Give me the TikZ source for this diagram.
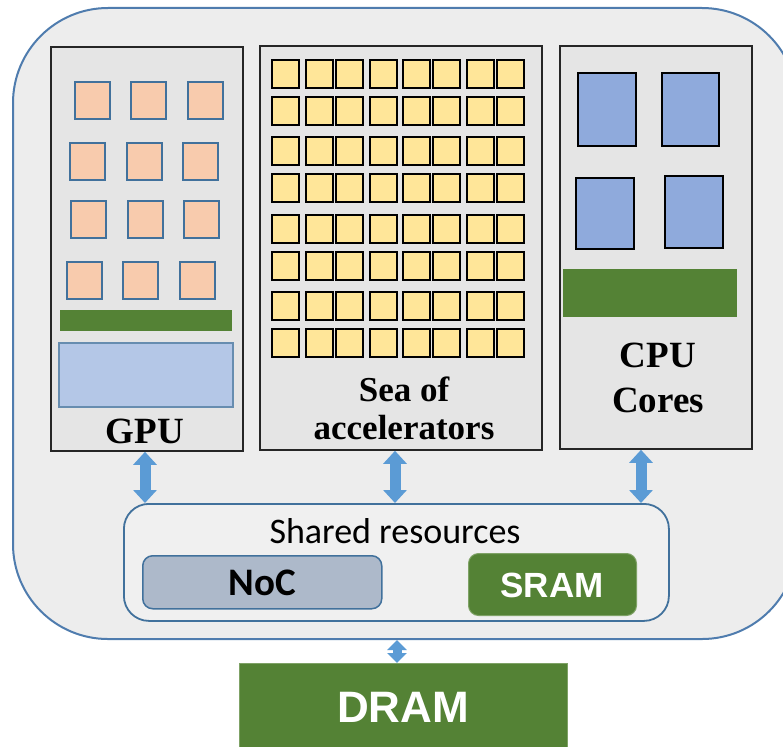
\documentclass[tikz,border=0pt]{standalone}
\usepackage{fontspec}
\setmainfont{Liberation Serif}
\newfontfamily\calib{Carlito}
\newfontfamily\arialf{Liberation Sans}
\usetikzlibrary{arrows.meta}

\definecolor{panel}{HTML}{EDEDED}
\definecolor{boxgray}{HTML}{E5E5E5}
\definecolor{frameblue}{HTML}{4F7CAE}
\definecolor{edgeblue}{HTML}{41719C}
\definecolor{gpucore}{HTML}{F8CBAD}
\definecolor{acccore}{HTML}{FFE699}
\definecolor{cpucore}{HTML}{8FAADC}
\definecolor{memgreen}{HTML}{548235}
\definecolor{memedge}{HTML}{7FA266}
\definecolor{ctrlblue}{HTML}{B4C7E7}
\definecolor{nocfill}{HTML}{ADB9CA}
\definecolor{linkblue}{HTML}{5B9BD5}
\definecolor{sharedfill}{HTML}{F0F0F0}

\tikzset{
  compbox/.style={draw=black!85, line width=1.8bp, fill=boxgray, anchor=north west, inner sep=0pt},
  gpucell/.style={draw=edgeblue, line width=2bp, fill=gpucore},
  acccell/.style={draw=black, line width=1.8bp, fill=acccore},
  cpucell/.style={draw=black, line width=1.8bp, fill=cpucore},
  greenbar/.style={fill=memgreen},
  serlbl/.style={font=\fontsize{35bp}{35bp}\selectfont\bfseries, anchor=base, inner sep=0pt},
  caplbl/.style={font=\fontsize{37bp}{37bp}\selectfont\bfseries, anchor=base, inner sep=0pt},
  membox/.style={anchor=north west, inner sep=0pt, rounded corners=10bp},
  biarrow/.style={draw=linkblue, line width=11bp,
    {Triangle[width=23bp,length=13bp]}-{Triangle[width=23bp,length=13bp]}},
  smallarrow/.style={draw=linkblue, line width=9bp,
    {Triangle[width=19bp,length=10bp]}-{Triangle[width=19bp,length=10bp]}},
}

\begin{document}
\begin{tikzpicture}[x=1bp,y=-1bp]
\useasboundingbox (0,0) rectangle (783,747);
\clip (0,0) rectangle (783,747);

% system-on-chip outline
\node[draw=frameblue, line width=2bp, fill=panel, rounded corners=95bp,
      minimum width=784bp, minimum height=631bp, anchor=north west, inner sep=0pt]
      (soc) at (12,7) {};

% compute clusters
\node[compbox, minimum width=192bp, minimum height=404bp] (gpu) at (50,46) {};
\node[compbox, minimum width=282bp, minimum height=404bp] (acc) at (259,45) {};
\node[compbox, minimum width=192bp, minimum height=403bp] (cpu) at (559,45) {};

% GPU streaming multiprocessors
\foreach \x/\y in {75/82,131/82,188/82, 70/143,127/143,183/143,
                   71/201,128/201,184/201, 67/262,123/262,180/262}
  \draw[gpucell] (\x,\y) rectangle ++(35,37);
\fill[greenbar] (60,310) rectangle (232,331);
\draw[draw=edgeblue!80, line width=1.5bp, fill=ctrlblue] (59,343) rectangle (233,407);

% accelerator array
\foreach \x in {272,306,336,370,403,433,467,497}
  \foreach \y in {60,97,137,174,215,252,292,329}
    \draw[acccell] (\x,\y) rectangle ++(27,28);

% CPU cores and cache
\draw[cpucell] (578,73) rectangle (636,146);
\draw[cpucell] (662,73) rectangle (719,146);
\draw[cpucell] (576,178) rectangle (634,249);
\draw[cpucell] (665,176) rectangle (723,248);
\fill[greenbar] (563,269) rectangle (737,317);

% cluster labels
\node[caplbl] (gpulbl) at (145,443) {GPU};
\node[serlbl] (acclbla) at (404,401) {Sea of};
\node[serlbl] (acclblb) at (404,439) {accelerators};
\node[caplbl] (cpulbla) at (658,367) {CPU};
\node[caplbl] (cpulblb) at (658,412) {Cores};

% shared resources
\node[draw=edgeblue, line width=1.8bp, fill=sharedfill, rounded corners=25bp,
      minimum width=545bp, minimum height=117bp, anchor=north west, inner sep=0pt]
      (shared) at (123,503) {};
\node[font=\calib\fontsize{36bp}{36bp}\selectfont, anchor=base, inner sep=0pt]
      (sharedlbl) at (395,543) {Shared resources};
\node[membox, draw=edgeblue, line width=1.5bp, fill=nocfill,
      minimum width=239bp, minimum height=53bp] (noc) at (142,555) {};
\node[font=\calib\fontsize{39bp}{39bp}\selectfont\bfseries, anchor=base, inner sep=0pt]
      (noclbl) at (262,595) {NoC};
\node[membox, draw=memedge, line width=1bp, fill=memgreen,
      minimum width=168bp, minimum height=62bp] (sram) at (468,553) {};
\node[font=\arialf\fontsize{35bp}{35bp}\selectfont\bfseries, text=white, anchor=base, inner sep=0pt]
      (sramlbl) at (552,597) {SRAM};

% off-chip memory
\node[draw=memedge, line width=1bp, fill=memgreen, minimum width=328bp,
      minimum height=100bp, anchor=north west, inner sep=0pt] (dram) at (239,663) {};
\node[font=\arialf\fontsize{44bp}{44bp}\selectfont\bfseries, text=white, anchor=base, inner sep=0pt]
      (dramlbl) at (403,722) {DRAM};

% interconnect links
\coordinate (xg) at (145,0);
\coordinate (xa) at (395,0);
\coordinate (xc) at (641,0);
\coordinate (xd) at (397,0);
\draw[biarrow] (gpu.south -| xg) -- (shared.north -| xg);
\draw[biarrow] (acc.south -| xa) -- (shared.north -| xa);
\draw[biarrow] (cpu.south -| xc) -- (shared.north -| xc);
\draw[smallarrow] (soc.south -| xd) -- (dram.north -| xd);
\end{tikzpicture}
\end{document}
